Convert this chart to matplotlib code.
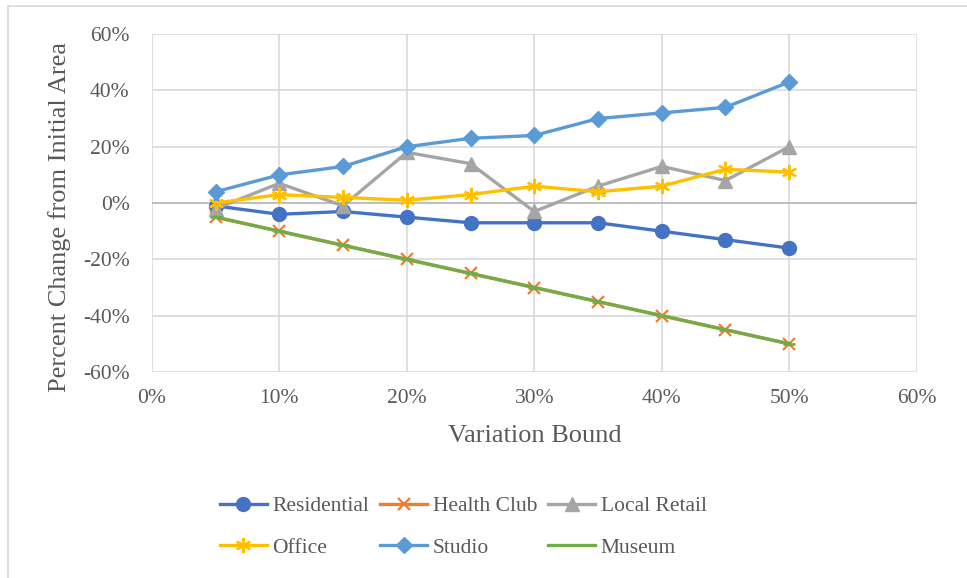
import matplotlib.pyplot as plt
from matplotlib.patches import Rectangle
from matplotlib.ticker import PercentFormatter

# Datos
bounds = [5, 10, 15, 20, 25, 30, 35, 40, 45, 50]
residential = [-1, -4, -3, -5, -7, -7, -7, -10, -13, -16]
health_club = [-5, -10, -15, -20, -25, -30, -35, -40, -45, -50]
local_retail = [-2, 7, -1, 18, 14, -3, 6, 13, 8, 20]
office = [0, 3, 2, 1, 3, 6, 4, 6, 12, 11]
studio = [4, 10, 13, 20, 23, 24, 30, 32, 34, 43]
museum = [-5, -10, -15, -20, -25, -30, -35, -40, -45, -50]

gris_texto = '#595959'
plt.rcParams['font.family'] = ['Liberation Serif', 'DejaVu Serif']
plt.rcParams['axes.unicode_minus'] = False

fig = plt.figure(figsize=(9.67, 5.78), dpi=100)
ax = fig.add_axes([0.157, 0.3564, 0.791, 0.5846])

# Borde exterior del area del grafico
fig.add_artist(Rectangle((7.5 / 967, -0.2), 1.2, 1.2 - 5.5 / 578,
                         transform=fig.transFigure, fill=False,
                         edgecolor='#d9d9d9', linewidth=1.2, clip_on=False))

lw = 2.4
l1, = ax.plot(bounds, residential, color='#4472C4', lw=lw, marker='o', ms=10, label='Residential', zorder=3)
l2, = ax.plot(bounds, health_club, color='#ED7D31', lw=lw, marker='x', ms=9, mew=1.6, label='Health Club', zorder=3)
l3, = ax.plot(bounds, local_retail, color='#A5A5A5', lw=lw, marker='^', ms=10, label='Local Retail', zorder=3)
l4, = ax.plot(bounds, office, color='#FFC000', lw=lw, marker=(6, 2, 0), ms=11, mew=1.6, label='Office', zorder=3)
l5, = ax.plot(bounds, studio, color='#5B9BD5', lw=lw, marker='D', ms=8, label='Studio', zorder=3)
l6, = ax.plot(bounds, museum, color='#70AD47', lw=lw, marker='_', ms=8, mew=2, label='Museum', zorder=3)

ax.set_xlim(0, 60)
ax.set_ylim(-60, 60)
ax.set_xticks(range(0, 61, 10))
ax.set_yticks(range(-60, 61, 20))
ax.xaxis.set_major_formatter(PercentFormatter(decimals=0))
ax.yaxis.set_major_formatter(PercentFormatter(decimals=0))

ax.grid(True, color='#d9d9d9', lw=1.2, zorder=0)
ax.set_axisbelow(True)
ax.axhline(0, color='#bfbfbf', lw=1.4, zorder=1)
for s in ax.spines.values():
    s.set_visible(False)
ax.tick_params(length=0, labelsize=15.5, labelcolor=gris_texto)
ax.tick_params(axis='y', pad=16)
ax.tick_params(axis='x', pad=12)

fig.text(0.553, 0.246, 'Variation Bound', ha='center', va='center', fontsize=19, color=gris_texto)
fig.text(0.062, 0.624, 'Percent Change from Initial Area', ha='center', va='center',
         rotation=90, fontsize=19, color=gris_texto)

# orden por filas como en Excel
handles = [l1, l4, l2, l5, l3, l6]
fig.legend(handles, [h.get_label() for h in handles],
           loc='center', bbox_to_anchor=(0.479, 0.088), ncol=3, frameon=False,
           fontsize=15.5, labelcolor=gris_texto, handlelength=2.2, handletextpad=0.25,
           columnspacing=0.5, labelspacing=1.0)

fig.savefig('out.png', dpi=100)
